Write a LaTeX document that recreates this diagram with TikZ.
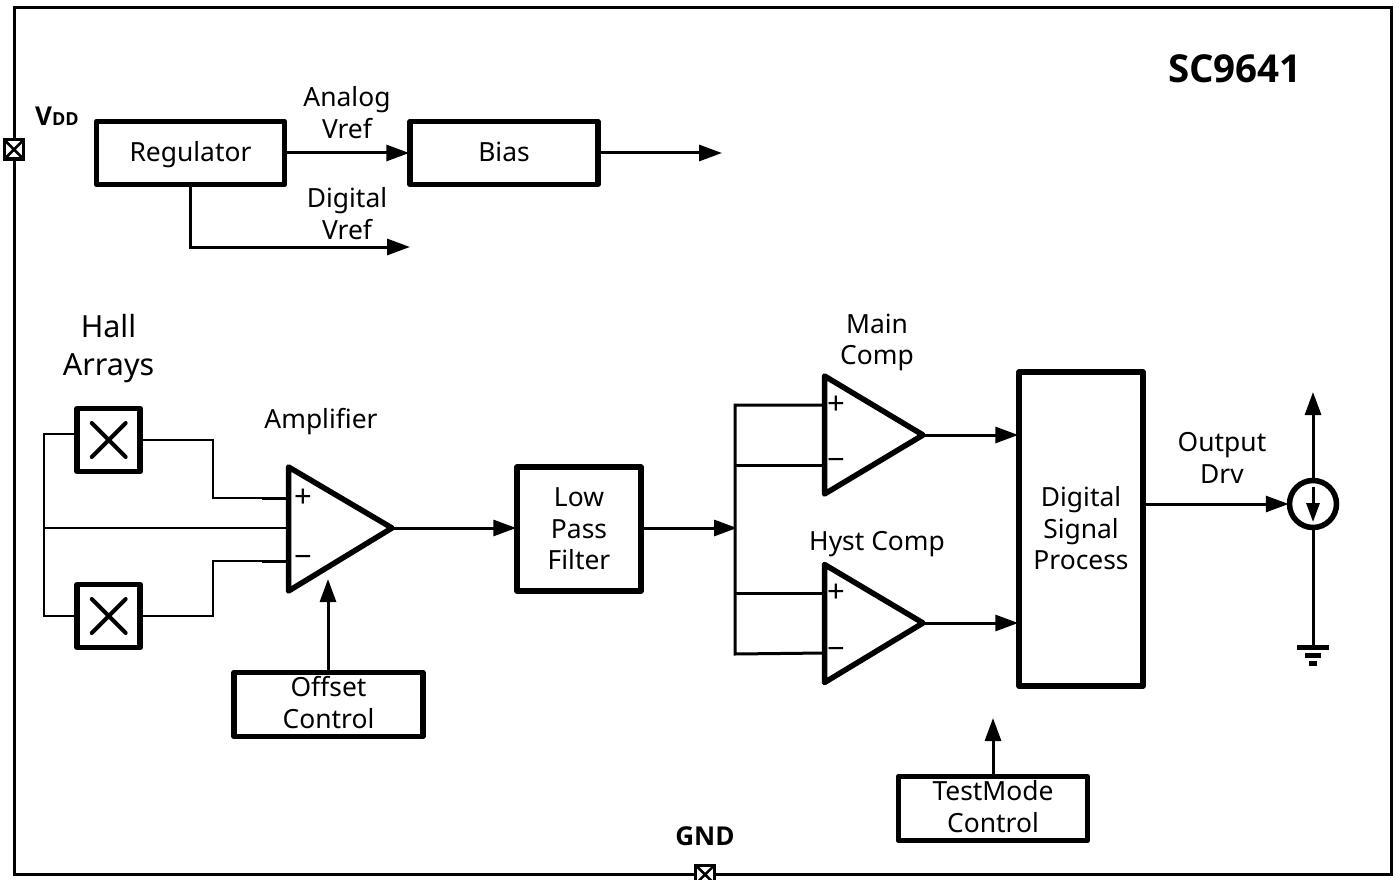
\documentclass[tikz,border=0pt]{standalone}
\usepackage{fontspec}
\setmainfont{Noto Sans}
\newfontfamily\headfont{Open Sans}
\usetikzlibrary{arrows.meta}
\tikzset{
    block/.style={draw, line width=5.5pt, line join=round, inner sep=0pt, align=center, font=\lbltext},
    hallbox/.style={draw, line width=5.5pt, line join=round, minimum width=63pt, minimum height=63pt, inner sep=0pt,
        path picture={\draw[line width=4pt, line cap=round, shift={(path picture bounding box.center)}]
            (-17,-17) -- (17,17) (-17,17) -- (17,-17);}},
    port/.style={draw, fill=white, line width=3pt, minimum width=19pt, minimum height=19pt, inner sep=0pt,
        path picture={\draw[line width=2.5pt] (path picture bounding box.north west) -- (path picture bounding box.south east)
            (path picture bounding box.north east) -- (path picture bounding box.south west);}},
    opamp/.style={line width=5.5pt, line join=round},
    lbl/.style={inner sep=0pt, align=center, font=\lbltext},
    sign/.style={inner sep=0pt, font=\fontsize{31}{34}\selectfont},
    wire/.style={line width=3pt},
    feed/.style={line width=3pt, ->, shorten >=-2pt},
    thinwire/.style={line width=2pt},
    stub/.style={line width=3pt},
}
\newcommand{\lbltext}{\fontsize{26.4}{31.5}\selectfont}
\begin{document}
\begin{tikzpicture}[x=1pt, y=-1pt, >={Triangle[length=23pt, width=16pt]}]
\useasboundingbox (0,0) rectangle (1400,880);

% Outer frame
\draw[line width=3pt] (14,8) rectangle (1391,874);

% Pins
\node[port] (vddpin) at (14,149.5) {};
\node[port] (gndpin) at (705,874.5) {};
\node[inner sep=0pt, font=\fontsize{26}{30}\headfont\bfseries] (vddlabel) at (57,116) {V\fontsize{18}{20}\selectfont DD};
\node[inner sep=0pt, font=\fontsize{26}{28}\headfont\bfseries] (gndlabel) at (705,836) {GND};
\node[inner sep=0pt, font=\fontsize{38.5}{40}\headfont\bfseries] (chipname) at (1235,69) {SC9641};

% Reference blocks
\node[block, minimum width=188pt, minimum height=63pt, text height=20pt, text depth=3pt] (regulator) at (190.5,153) {Regulator};
\node[block, minimum width=188pt, minimum height=63pt, text height=20pt, text depth=3pt] (bias) at (504,153) {Bias};
\coordinate (biasout) at (722,153);
\coordinate (digout) at (410,247);
\draw[feed] (regulator.east) -- (bias.west);
\draw[wire, ->] (bias.east) -- (biasout);
\draw[wire, ->] (regulator.south) |- (digout);
\node[lbl] (analoglabel) at (347,112.5) {Analog\\Vref};
\node[lbl] (digitallabel) at (347,213.5) {Digital\\Vref};

% Hall plates
\node[lbl, font=\fontsize{30.5}{38.5}\selectfont] (halllabel) at (108.5,348.5) {Hall\\Arrays};
\node[hallbox] (hallA) at (108.7,440) {};
\node[hallbox] (hallB) at (108.7,616) {};
\coordinate (hallbus) at (44,528);

% Amplifier
\coordinate (ampA) at (288.5,467);
\coordinate (ampB) at (288.5,591);
\coordinate (ampout) at (392,528);
\coordinate (ampplus) at (288,498);
\coordinate (ampminus) at (288,561);
\coordinate (ampmid) at (288,528);
\coordinate (ampin) at (328,579);
\draw[opamp] (ampA) -- (ampout) -- (ampB) -- cycle;
\node[sign] (ampplussign) at (303,498) {+};
\node[sign] (ampminussign) at (303,561) {\textminus};
\node[lbl] (amplabel) at (321,422) {Amplifier};

\draw[thinwire] (hallA.west |- 0,434) -| (hallbus) |- (hallB.west);
\draw[thinwire] (hallbus) -- (ampmid);
\draw[thinwire] (hallA.east) -| (213,498) -- (ampplus);
\draw[thinwire] (hallB.east) -| (213,561) -- (ampminus);
\draw[stub] (262,498) -- (ampplus);
\draw[stub] (262,561) -- (ampminus);

\node[block, minimum width=189pt, minimum height=64pt, text depth=4pt] (offset) at (328.5,704.5) {Offset\\Control};
\draw[wire, ->] (offset.north -| ampin) -- (ampin);

% Filter
\node[block, minimum width=124pt, minimum height=124pt] (lowpass) at (579,529) {Low\\Pass\\Filter};
\coordinate (combus) at (735,528);
\draw[feed] (ampout) -- (ampout -| lowpass.west);
\draw[feed] (lowpass.east |- combus) -- (combus);

% Comparators
\coordinate (mainA) at (824.5,376);
\coordinate (mainB) at (824.5,494);
\coordinate (mainout) at (923,435);
\coordinate (hystA) at (824.5,564.5);
\coordinate (hystB) at (824.5,682.5);
\coordinate (hystout) at (923,623);
\draw[opamp] (mainA) -- (mainout) -- (mainB) -- cycle;
\draw[opamp] (hystA) -- (hystout) -- (hystB) -- cycle;
\node[sign] (mainplus) at (836,405) {+};
\node[sign] (mainminus) at (836,464) {\textminus};
\node[sign] (hystplus) at (836,593) {+};
\node[sign] (hystminus) at (836,653) {\textminus};
\node[lbl] (mainlabel) at (877,342.5) {Main\\Comp};
\node[lbl] (hystlabel) at (877,544) {Hyst Comp};

\draw[wire] (mainA |- 0,405) -- (735,405) -- (735,654) -- (hystB |- 0,653);
\draw[wire] (735,465) -- (mainA |- 0,465);
\draw[wire] (735,593) -- (hystA |- 0,593);

% Digital block
\node[block, minimum width=124pt, minimum height=314pt, text depth=1.5pt] (dsp) at (1081,529) {Digital\\Signal\\Process};
\draw[feed] (mainout) -- (mainout -| dsp.west);
\draw[feed] (hystout) -- (hystout -| dsp.west);
\node[block, minimum width=189pt, minimum height=64pt, text depth=4pt] (testmode) at (993,808.5) {TestMode\\Control};
\coordinate (testin) at (993,718);
\draw[wire, ->] (testmode.north) -- (testin);

% Output stage
\node[draw, circle, line width=5.5pt, minimum size=47pt, inner sep=0pt] (output) at (1313,504) {};
\coordinate (outtop) at (1313,392);
\coordinate (gndtop) at (1313,647);
\coordinate (srcA) at (1313,487);
\coordinate (srcB) at (1313,522);
\draw[feed] (dsp.east |- output) -- (output.west);
\draw[wire, ->] (output.north) -- (outtop);
\draw[wire] (output.south) -- (gndtop);
\draw[wire, -{Triangle[length=19pt, width=13pt]}] (srcA) -- (srcB);
\node[lbl] (outlabel) at (1222,458) {Output\\Drv};

% Ground symbol
\draw[line width=5pt] (1297,647) -- (1329,647);
\draw[line width=5pt] (1305,655) -- (1321,655);
\draw[line width=5pt] (1309,663) -- (1317,663);

\end{tikzpicture}
\end{document}
